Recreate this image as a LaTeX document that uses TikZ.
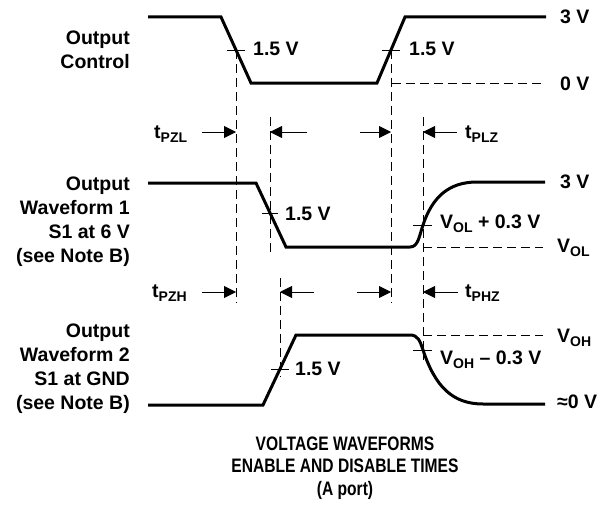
\documentclass[tikz,border=0pt]{standalone}
\usepackage{fontspec}
\setmainfont{Liberation Sans}
\newfontfamily\titlefont[FakeStretch=0.8]{Liberation Sans}
\usetikzlibrary{arrows.meta}
\newcommand\lowsub[1]{\raisebox{-0.22em}{\fontsize{14}{14}\selectfont #1}}

\begin{document}
\begin{tikzpicture}[x=1pt,y=-1pt,
  txt/.style={font=\bfseries\fontsize{19.5}{24}\selectfont, inner sep=0pt},
  side/.style={txt, align=right, anchor=base east},
  lvl/.style={txt, anchor=base west},
  wave/.style={line width=3pt},
  guide/.style={line width=0.9pt, dash pattern=on 9pt off 5pt},
  tick/.style={line width=0.9pt},
  timing/.style={line width=0.9pt, -{Triangle[length=12pt,width=12pt]}}]
\useasboundingbox (0,0) rectangle (607,511);

\coordinate (oc0) at (148,17);
\coordinate (oc1) at (221,17);
\coordinate (oc2) at (251,83);
\coordinate (oc3) at (377,83);
\coordinate (oc4) at (405,17);
\coordinate (oc5) at (546,17);
\coordinate (oca) at (236,50);
\coordinate (ocb) at (391,50);

\coordinate (w0) at (148,183);
\coordinate (w1) at (256,183);
\coordinate (w2) at (286,247);
\coordinate (w3) at (410,247);
\coordinate (wx) at (423,225);
\coordinate (w4) at (477,182);
\coordinate (w5) at (545,182);
\coordinate (wa) at (270,213);

\coordinate (v0) at (148,405);
\coordinate (v1) at (263,405);
\coordinate (v2) at (296,335);
\coordinate (v3) at (410,335);
\coordinate (vx) at (423,350);
\coordinate (v4) at (483,404);
\coordinate (v5) at (545,404);
\coordinate (va) at (280,369);

\draw[wave] (oc0) -- (oc1) -- (oc2) -- (oc3) -- (oc4) -- (oc5);
\draw[wave] (w0) -- (w1) -- (w2) -- (w3) .. controls (418,247) and (419,237) .. (wx)
  .. controls (432,198) and (448,182) .. (w4) -- (w5);
\draw[wave] (v0) -- (v1) -- (v2) -- (v3) .. controls (418,335) and (420,341) .. (vx)
  .. controls (435,386) and (452,404) .. (v4) -- (v5);

\foreach \p/\l/\r in {oca/9/9, ocb/9/9, wa/8/8, va/9/9, wx/10/9, vx/10/9}
  \draw[tick] ([xshift=-\l pt]\p) -- ([xshift=\r pt]\p);

\coordinate (g3) at (270,117);
\coordinate (g4) at (280,278);
\coordinate (g5) at (423,117);
\draw[guide] (oca) -- (236,303);
\draw[guide] (ocb) -- (391,303);
\draw[guide] (g3) -- (270,255);
\draw[guide] (g4) -- (280,377);
\draw[guide] (g5) -- (423,360);
\draw[guide] (392,83) -- (543,83);
\draw[guide] (w3 -| wx) -- (543,247);
\draw[guide] (v3 -| vx) -- (543,335);

\coordinate (r1) at (0,132);
\coordinate (r2) at (0,292);
\foreach \s/\e/\r in {202/oca/r1, 307/g3/r1, 360/ocb/r1, 457/g5/r1,
                      202/oca/r2, 314/g4/r2, 357/ocb/r2, 458/g5/r2}
  \draw[timing] (\s pt,0 |- \r) -- (\e |- \r);

\node[side] (oclbl) at (130,68) {Output\\Control};
\node[side] (w1lbl) at (130,262) {Output\\Waveform 1\\S1 at 6 V\\(see Note B)};
\node[side] (w2lbl) at (130,409) {Output\\Waveform 2\\S1 at GND\\(see Note B)};

\node[lvl] (oclo) at (253,56) {1.5 V};
\node[lvl] (ochi) at (409,56) {1.5 V};
\node[lvl] (wmid) at (285,220) {1.5 V};
\node[lvl] (vmid) at (295,375) {1.5 V};
\node[lvl] (oc3v) at (560,24) {3 V};
\node[lvl] (oc0v) at (560,90) {0 V};
\node[lvl] (w3v) at (560,188) {3 V};
\node[lvl] (wol) at (557,252) {V\lowsub{OL}};
\node[lvl] (wolp) at (440,228) {V\lowsub{OL} + 0.3 V};
\node[lvl] (voh) at (557,342) {V\lowsub{OH}};
\node[lvl] (vohm) at (440,364) {V\lowsub{OH} – 0.3 V};
\node[lvl] (v0v) at (557,408) {≈0 V};
\node[lvl] (tpzl) at (154,138) {t\lowsub{PZL}};
\node[lvl] (tplz) at (465,138) {t\lowsub{PLZ}};
\node[lvl] (tpzh) at (152,297) {t\lowsub{PZH}};
\node[lvl] (tphz) at (465,297) {t\lowsub{PHZ}};

\node[txt, align=center, anchor=base, font=\titlefont\bfseries\fontsize{19.5}{22.5}\selectfont] (title) at (345,495)
  {VOLTAGE WAVEFORMS\\ENABLE AND DISABLE TIMES\\(A port)};

\end{tikzpicture}
\end{document}
